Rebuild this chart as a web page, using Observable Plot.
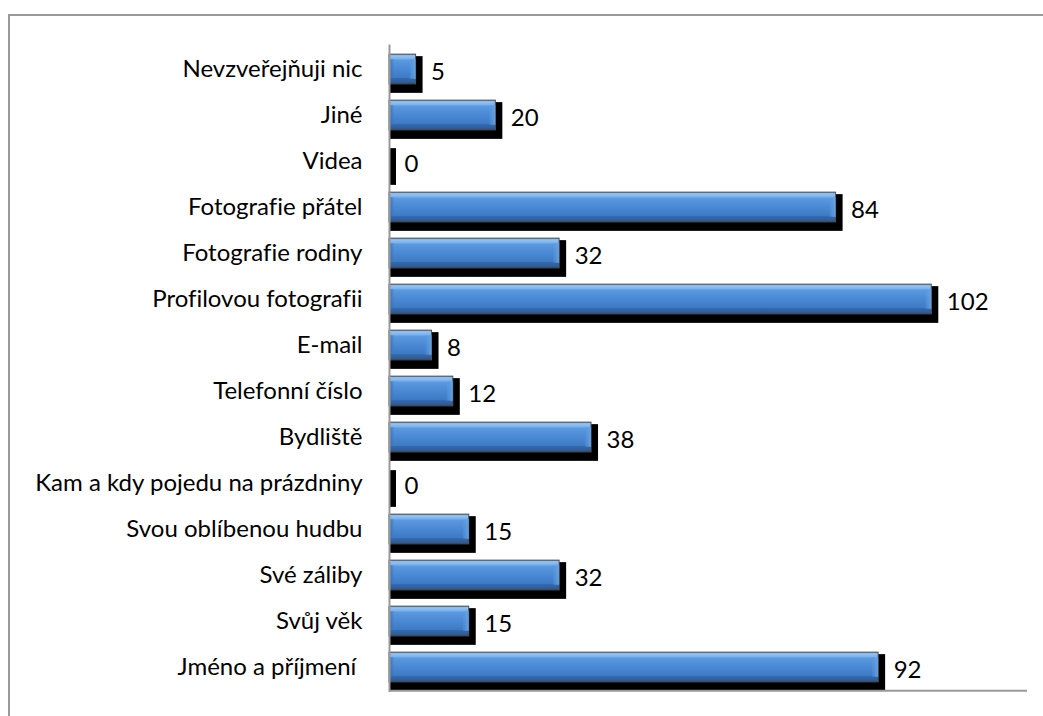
<!DOCTYPE html>
<html><head><meta charset="utf-8">
<script src="https://cdn.jsdelivr.net/npm/d3@7"></script>
<script src="https://cdn.jsdelivr.net/npm/@observablehq/plot@0.6"></script>
<style>
html,body{margin:0;padding:0;background:#fff;}
#wrap{position:relative;width:1043px;height:716px;overflow:hidden;}
#border{position:absolute;left:8px;top:14px;width:1100px;height:800px;border-top:2px solid #999;border-left:2px solid #999;}
#chart{position:absolute;left:0;top:0;}
#chart svg text{font-variant-ligatures:none;}
</style></head><body>
<div id="wrap"><div id="border"></div><div id="chart"></div></div>
<script>
const categories = [
  "Nevzveřejňuji nic",
  "Jiné",
  "Videa",
  "Fotografie přátel",
  "Fotografie rodiny",
  "Profilovou fotografii",
  "E-mail",
  "Telefonní číslo",
  "Bydliště",
  "Kam a kdy pojedu na prázdniny",
  "Svou oblíbenou hudbu",
  "Své záliby",
  "Svůj věk",
  "Jméno a příjmení\u00a0"
];
const values = [5, 20, 0, 84, 32, 102, 8, 12, 38, 0, 15, 32, 15, 92];
const xDomain = [0, 120];

const data = categories.map((c, i) => ({category: c, value: values[i]}));

const plotTop = 44.4, plotBottom = 692.1;
const step = (plotBottom - plotTop) / categories.length;
const faceH = 30;
const faceInset = (step - faceH) / 2;

const chart = Plot.plot({
  width: 1043,
  height: 716,
  marginLeft: 389,
  marginRight: 16,
  marginTop: plotTop,
  marginBottom: 716 - plotBottom,
  x: {domain: xDomain, axis: null},
  y: {domain: categories, padding: 0, axis: null},
  style: {fontFamily: "Lato, 'Open Sans', sans-serif", fontSize: "24px", background: "transparent", color: "#000"},
  marks: [
    // shadow
    Plot.barX(data, {y: "category", x1: 0, x2: "value", fill: "#000",
      insetTop: faceInset + 2, insetBottom: faceInset - 9, insetRight: -7}),
    // face
    Plot.barX(data, {y: "category", x1: 0, x2: "value", fill: "url(#faceGrad)",
      stroke: "#555", strokeWidth: 1, insetTop: faceInset, insetBottom: faceInset}),
    // right bevel
    Plot.barX(data.filter(d => d.value > 0), {y: "category", x1: "value", x2: "value", fill: "url(#rightGrad)",
      insetLeft: -6, insetTop: faceInset + 5, insetBottom: faceInset + 5}),
    // left bevel
    Plot.barX(data.filter(d => d.value > 0), {y: "category", x1: 0, x2: 0, fill: "url(#leftGrad)",
      insetRight: -5, insetTop: faceInset + 5, insetBottom: faceInset + 5}),
    // axes lines
    Plot.ruleX([0], {stroke: "#999", strokeWidth: 2}),
    Plot.ruleY([categories[categories.length - 1]], {stroke: "#999", strokeWidth: 2, dy: step / 2}),
    // category labels
    Plot.axisY({tickSize: 0, tickPadding: 27, label: null, fontSize: 24, fill: "#000"}),
    // value labels
    Plot.text(data, {y: "category", x: "value", text: d => String(d.value), textAnchor: "start",
      dx: 15, dy: 3, fontSize: 24, fill: "#000"})
  ]
});

const defs = `
<defs>
  <linearGradient id="faceGrad" x1="0" y1="0" x2="0" y2="1">
    <stop offset="0" stop-color="#4a6f9c"/>
    <stop offset="0.05" stop-color="#93c4f5"/>
    <stop offset="0.17" stop-color="#78b0ec"/>
    <stop offset="0.19" stop-color="#5b9ae0"/>
    <stop offset="0.5" stop-color="#4a89d3"/>
    <stop offset="0.8" stop-color="#3d7ac4"/>
    <stop offset="0.82" stop-color="#3469ad"/>
    <stop offset="0.95" stop-color="#2d5d9b"/>
    <stop offset="1" stop-color="#203f68"/>
  </linearGradient>
  <linearGradient id="rightGrad" x1="0" y1="0" x2="1" y2="0">
    <stop offset="0" stop-color="#5a98dd" stop-opacity="0.3"/>
    <stop offset="1" stop-color="#6aa5e6" stop-opacity="0.9"/>
  </linearGradient>
  <linearGradient id="leftGrad" x1="0" y1="0" x2="1" y2="0">
    <stop offset="0" stop-color="#2f64a6" stop-opacity="0.8"/>
    <stop offset="1" stop-color="#3d7ac4" stop-opacity="0.2"/>
  </linearGradient>
</defs>`;
chart.insertAdjacentHTML("afterbegin", defs);
document.getElementById("chart").appendChild(chart);
</script>
</body></html>
